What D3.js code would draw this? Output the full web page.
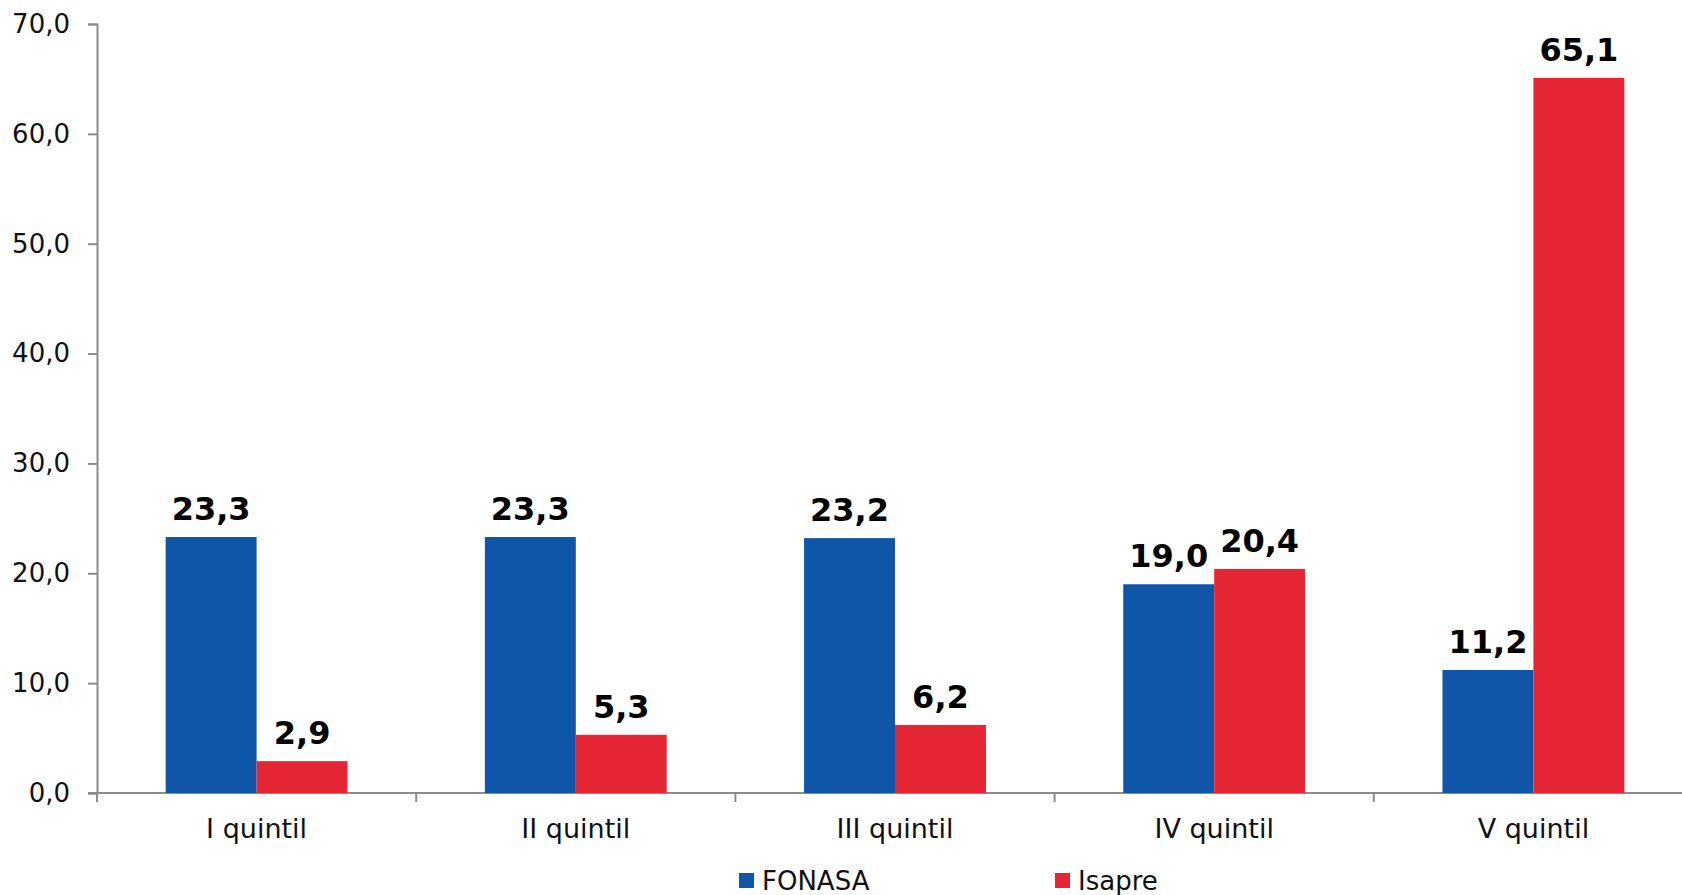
<!DOCTYPE html>
<html>
<head>
<meta charset="utf-8">
<script src="https://cdn.jsdelivr.net/npm/d3@7"></script>
<style>
  body { margin: 0; background: #fff; }
  svg { display: block; font-family: "DejaVu Sans", Verdana, sans-serif; }
</style>
</head>
<body>
<svg id="chart"></svg>
<script>
// data
const categories = ["I quintil", "II quintil", "III quintil", "IV quintil", "V quintil"];
const seriesNames = ["FONASA", "Isapre"];
const fonasa = [23.3, 23.3, 23.2, 19.0, 11.2];
const isapre = [2.9, 5.3, 6.2, 20.4, 65.1];
const yTicks = [0, 10, 20, 30, 40, 50, 60, 70];

const colors = { FONASA: "#0F56A8", Isapre: "#E52735" };
const axisColor = "#8c8c8c";

const width = 1682, height = 895;
const left = 97, zeroY = 793, topY = 24;

const svg = d3.select("#chart").attr("width", width).attr("height", height);

const rows = categories.map((c, i) => ({ cat: c, FONASA: fonasa[i], Isapre: isapre[i] }));

const x = d3.scaleBand().domain(categories).range([left, left + 5 * 319.2]).padding(0);
const xs = d3.scaleBand().domain(seriesNames).range([0, x.bandwidth()])
    .paddingInner(0).paddingOuter(0.755);
const y = d3.scaleLinear().domain([0, 70]).range([zeroY, topY]);

const comma = d3.formatLocale({ decimal: ",", thousands: ".", grouping: [3], currency: ["", ""] });
const fmt = comma.format(".1f");

// y axis
const yAxisG = svg.append("g")
    .attr("transform", `translate(${left},0)`)
    .call(d3.axisLeft(y).tickValues(yTicks).tickSize(9).tickPadding(18).tickFormat(fmt));
yAxisG.selectAll("path, line").attr("stroke", axisColor).attr("stroke-width", 2);
yAxisG.selectAll("text").attr("font-size", "26px").attr("fill", "#111")
    .attr("font-family", "DejaVu Sans, Verdana, sans-serif");

// x axis line + boundary ticks
svg.append("line")
    .attr("x1", left - 9).attr("x2", width).attr("y1", zeroY).attr("y2", zeroY)
    .attr("stroke", axisColor).attr("stroke-width", 2);
const bounds = categories.map(c => x(c));
svg.selectAll(".xtick").data(bounds).enter().append("line")
    .attr("class", "xtick")
    .attr("x1", d => d).attr("x2", d => d)
    .attr("y1", zeroY).attr("y2", zeroY + 9)
    .attr("stroke", axisColor).attr("stroke-width", 2);

svg.selectAll(".xlabel").data(categories).enter().append("text")
    .attr("class", "xlabel")
    .attr("x", d => x(d) + x.bandwidth() / 2)
    .attr("y", 838)
    .attr("text-anchor", "middle")
    .attr("font-size", "27px")
    .attr("fill", "#111")
    .text(d => d);

// bars
const groups = svg.selectAll(".grp").data(rows).enter().append("g")
    .attr("class", "grp")
    .attr("transform", d => `translate(${x(d.cat)},0)`);

groups.selectAll("rect")
    .data(d => seriesNames.map(s => ({ s, v: d[s] })))
    .enter().append("rect")
    .attr("x", d => xs(d.s))
    .attr("width", xs.bandwidth())
    .attr("y", d => y(d.v))
    .attr("height", d => zeroY - y(d.v))
    .attr("fill", d => colors[d.s]);

groups.selectAll(".lbl")
    .data(d => seriesNames.map(s => ({ s, v: d[s] })))
    .enter().append("text")
    .attr("class", "lbl")
    .attr("x", d => xs(d.s) + xs.bandwidth() / 2)
    .attr("y", d => y(d.v) - 17)
    .attr("text-anchor", "middle")
    .attr("font-size", "32px")
    .attr("font-weight", "bold")
    .attr("fill", "#000")
    .text(d => fmt(d.v));

// legend
const legendX = [739, 1055];
const leg = svg.selectAll(".leg").data(seriesNames).enter().append("g")
    .attr("class", "leg")
    .attr("transform", (d, i) => `translate(${legendX[i]},0)`);
leg.append("rect")
    .attr("x", 0).attr("y", 873).attr("width", 15).attr("height", 15)
    .attr("fill", d => colors[d]);
leg.append("text")
    .attr("x", 23).attr("y", 890)
    .attr("font-size", "26px")
    .attr("fill", "#111")
    .text(d => d);
</script>
</body>
</html>
